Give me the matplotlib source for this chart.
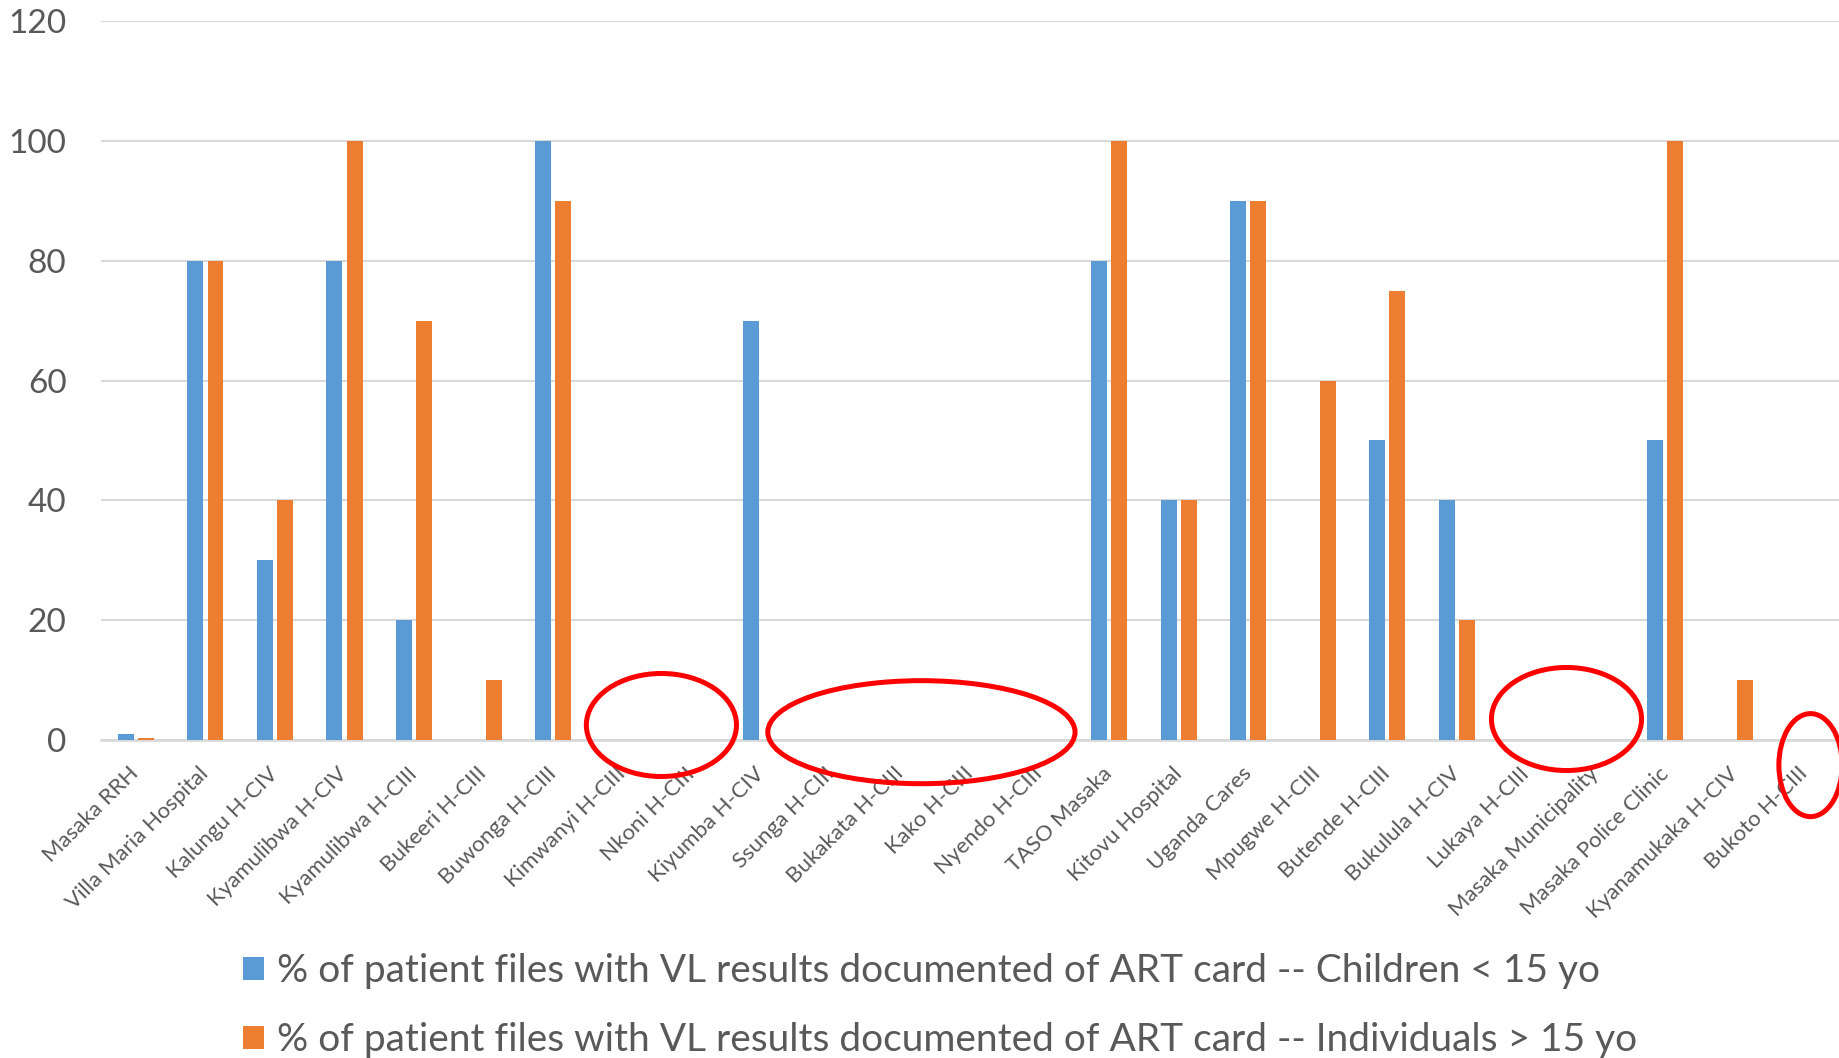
import matplotlib
matplotlib.use("Agg")
import matplotlib.pyplot as plt
from matplotlib.patches import Ellipse, Patch
import numpy as np

plt.rcParams["font.family"] = ["Lato", "DejaVu Sans"]

facilities = [
    "Masaka RRH", "Villa Maria Hospital", "Kalungu H-CIV", "Kyamulibwa H-CIV",
    "Kyamulibwa H-CIII", "Bukeeri H-CIII", "Buwonga H-CIII", "Kimwanyi H-CIII",
    "Nkoni H-CIII", "Kiyumba H-CIV", "Ssunga H-CIII", "Bukakata H-CIII",
    "Kako H-CIII", "Nyendo H-CIII", "TASO Masaka", "Kitovu Hospital",
    "Uganda Cares", "Mpugwe H-CIII", "Butende H-CIII", "Bukulula H-CIV",
    "Lukaya H-CIII", "Masaka Municipality", "Masaka Police Clinic",
    "Kyanamukaka H-CIV", "Bukoto H-CIII",
]
children = [1, 80, 30, 80, 20, 0, 100, 0, 0, 70, 0, 0, 0, 0, 80, 40, 90, 0, 50, 40, 0, 0, 50, 0, 0]
adults = [0.3, 80, 40, 100, 70, 10, 90, 0, 0, 0, 0, 0, 0, 0, 100, 40, 90, 60, 75, 20, 0, 0, 100, 10, 0]
series_labels = [
    "% of patient files with VL results documented of ART card -- Children < 15 yo",
    "% of patient files with VL results documented of ART card -- Individuals > 15 yo",
]
y_ticks = [0, 20, 40, 60, 80, 100, 120]

# red rings around facilities without results:
# (centre in category units, width in categories, centre height)
circled_groups = [(7.56, 2.16, 2.5), (11.3, 4.42, 1.3), (20.58, 2.16, 3.5), (24.09, 0.91, -4.2)]

BLUE = "#5B9BD5"
ORANGE = "#ED7D31"
TEXT = "#595959"
GRID = "#D9D9D9"

fig = plt.figure(figsize=(18.39, 10.58), dpi=100)
ax = fig.add_axes([0.055, 0.3006, 0.945, 0.6794])

x = np.arange(len(facilities))
w = 0.23
off = 0.145
ax.bar(x - off, children, width=w, color=BLUE, zorder=3)
ax.bar(x + off, adults, width=w, color=ORANGE, zorder=3)

ax.set_xlim(-0.5, len(facilities) - 0.5)
ax.set_ylim(0, 120)
ax.set_yticks(y_ticks)
ax.yaxis.grid(True, color=GRID, linewidth=1.5, zorder=0)
ax.set_axisbelow(True)
for s in ["top", "right", "left"]:
    ax.spines[s].set_visible(False)
ax.spines["bottom"].set_color(GRID)
ax.spines["bottom"].set_linewidth(2)
ax.tick_params(axis="y", length=0, pad=25, labelsize=24, labelcolor=TEXT)
ax.tick_params(axis="x", length=0, pad=22, labelsize=16, labelcolor=TEXT)
ax.set_xticks(x)
ax.set_xticklabels(facilities, rotation=45, ha="right", va="center",
                   rotation_mode="anchor")

for xc, ew, yc in circled_groups:
    ell = Ellipse((xc, yc), ew, 17.2, fill=False, edgecolor="#FF0000",
                  linewidth=3.6, clip_on=False, zorder=5)
    ax.add_patch(ell)

handles = [Patch(facecolor=BLUE), Patch(facecolor=ORANGE)]
fig.legend(handles, series_labels, loc="upper left",
           bbox_to_anchor=(0.132, 0.099), frameon=False,
           fontsize=28, labelcolor=TEXT, handlelength=0.54,
           handleheight=0.54, handletextpad=0.34, labelspacing=0.84,
           borderaxespad=0, borderpad=0)

fig.savefig("out.png", dpi=100)
